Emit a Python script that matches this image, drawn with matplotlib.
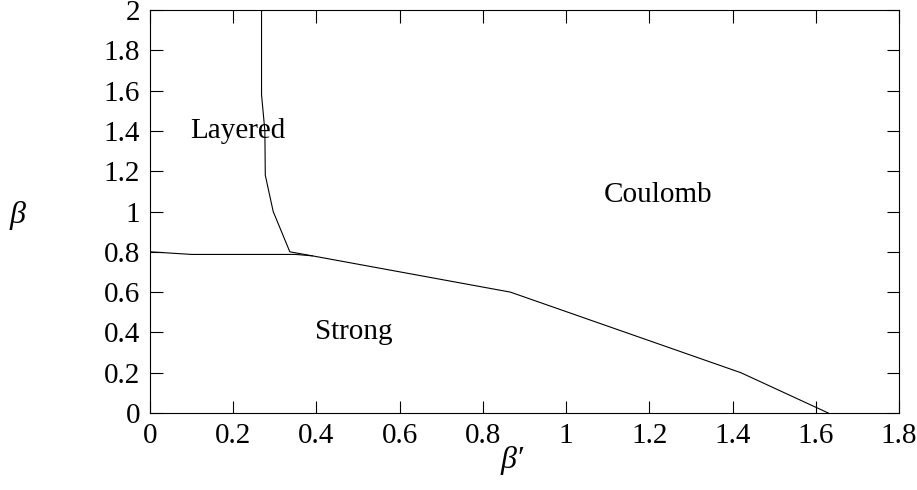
import matplotlib
matplotlib.use('Agg')
import matplotlib.pyplot as plt
from matplotlib.ticker import FuncFormatter

plt.rcParams['font.family'] = ['Liberation Serif', 'DejaVu Serif']

# phase boundaries
lower_x = [0.0, 0.10, 0.35, 0.39, 0.866, 1.42, 1.63]
lower_y = [0.80, 0.787, 0.787, 0.78, 0.60, 0.20, 0.0]
upper_x = [0.268, 0.268, 0.276, 0.277, 0.296, 0.336, 0.39]
upper_y = [2.0, 1.58, 1.40, 1.18, 1.0, 0.80, 0.78]

region_names = ['Layered', 'Coulomb', 'Strong']
region_x = [0.21, 1.22, 0.49]
region_y = [1.40, 1.08, 0.40]

xticks = [0, 0.2, 0.4, 0.6, 0.8, 1, 1.2, 1.4, 1.6, 1.8]
yticks = [0, 0.2, 0.4, 0.6, 0.8, 1, 1.2, 1.4, 1.6, 1.8, 2]

fig = plt.figure(figsize=(9.17, 4.9), dpi=100)
ax = fig.add_axes([0.1636, 0.1571, 0.8168, 0.8225])

ax.plot(lower_x, lower_y, color='black', lw=0.8)
ax.plot(upper_x, upper_y, color='black', lw=0.8)

for name, x, y in zip(region_names, region_x, region_y):
    ax.text(x, y, name, fontsize=21, ha='center', va='center')

ax.set_xlim(0, 1.8)
ax.set_ylim(0, 2)
ax.set_xticks(xticks)
ax.set_yticks(yticks)
fmt = FuncFormatter(lambda v, p: '%g' % v)
ax.xaxis.set_major_formatter(fmt)
ax.yaxis.set_major_formatter(fmt)
ax.tick_params(direction='in', length=9, width=0.8, labelsize=21,
               top=True, right=True, pad=7)
for s in ax.spines.values():
    s.set_linewidth(0.8)

fig.text(18 / 917, 1 - 215 / 490, 'β', fontsize=23, style='italic',
         ha='center', va='center')
fig.text(512 / 917, 1 - 460 / 490, 'β\u2032', fontsize=23, style='italic',
         ha='center', va='center')

fig.savefig('out.png', dpi=100)
